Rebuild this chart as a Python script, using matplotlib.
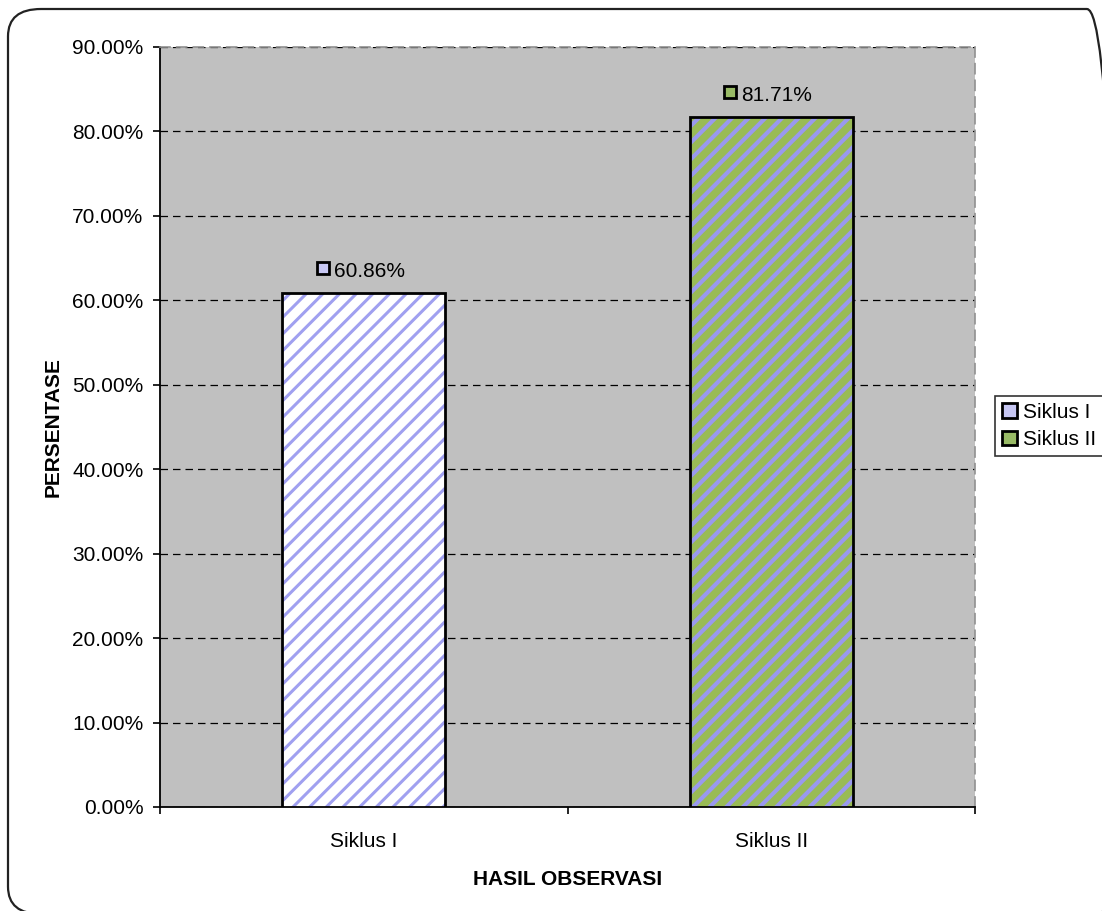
import matplotlib
matplotlib.use("Agg")
import matplotlib.pyplot as plt
import matplotlib.transforms as mtransforms
from matplotlib.patches import FancyBboxPatch
from matplotlib.ticker import PercentFormatter, FixedLocator

# data
kategori = ["Siklus I", "Siklus II"]
persentase = [60.86, 81.71]
label_nilai = ["60.86%", "81.71%"]
warna_dasar = ["#FFFFFF", "#99BB55"]
warna_garis = ["#A0A0F0", "#9999EE"]
warna_kunci = ["#C8C8F4", "#99BB66"]
tebal_garis = [2.2, 3.0]

plt.rcParams['font.family'] = ['Liberation Sans', 'DejaVu Sans']
plt.rcParams['hatch.linewidth'] = 3.0

fig = plt.figure(figsize=(11.02, 9.11), dpi=100)
ax = fig.add_axes([160 / 1102, 1 - 807 / 911, 815 / 1102, 760 / 911])
ax.set_facecolor("#C0C0C0")

# bingkai bulat di sekeliling gambar
bingkai = FancyBboxPatch((8 / 1102, -3 / 911), 1112 / 1102, 905 / 911,
                         boxstyle="round,pad=0,rounding_size=0.03",
                         transform=fig.transFigure, facecolor="none",
                         edgecolor="#222222", linewidth=1.6, clip_on=False)
fig.patches.append(bingkai)

x = list(range(len(kategori)))
bars = []
for i in x:
    b = ax.bar(x[i], persentase[i], width=0.4, color=warna_dasar[i],
               edgecolor=warna_garis[i], linewidth=0, hatch="//", zorder=3,
               label=kategori[i])
    if hasattr(b[0], "set_hatch_linewidth"):
        b[0].set_hatch_linewidth(tebal_garis[i])
    # outline hitam terpisah
    ax.bar(x[i], persentase[i], width=0.4, color="none",
           edgecolor="black", linewidth=2, zorder=4)
    bars.append(b)

# label nilai dengan kunci kecil
for i in x:
    kunci = mtransforms.offset_copy(ax.transData, fig=fig, x=-41, y=25, units='dots')
    ax.plot(x[i], persentase[i], transform=kunci, marker='s', markersize=9,
            markerfacecolor=warna_kunci[i], markeredgecolor="black",
            markeredgewidth=2, zorder=5, clip_on=False)
    teks = mtransforms.offset_copy(ax.transData, fig=fig, x=-30, y=22, units='dots')
    ax.text(x[i], persentase[i], label_nilai[i], transform=teks,
            ha='left', va='center', fontsize=15, zorder=5)

ax.set_xlim(-0.5, 1.5)
ax.set_ylim(0, 90)
ax.yaxis.set_major_locator(FixedLocator([0, 10, 20, 30, 40, 50, 60, 70, 80, 90]))
ax.yaxis.set_major_formatter(PercentFormatter(decimals=2))
ax.set_xticks(x)
ax.set_xticklabels(kategori)
ax.set_xticks([-0.5, 0.5, 1.5], minor=True)
ax.tick_params(axis='x', which='major', length=0, pad=18, labelsize=15)
ax.tick_params(axis='x', which='minor', length=5, width=1.2, direction='out')
ax.tick_params(axis='y', length=5, width=1.2, direction='out', pad=7, labelsize=15)

ax.grid(axis='y', color='black', linestyle=(0, (6, 4)), linewidth=0.9, zorder=1)
ax.set_axisbelow(True)

for s in ['left', 'bottom']:
    ax.spines[s].set_color('black')
    ax.spines[s].set_linewidth(1.3)
for s in ['top', 'right']:
    ax.spines[s].set_color('#909090')
    ax.spines[s].set_linestyle((0, (6, 4)))
    ax.spines[s].set_linewidth(1.2)

ax.set_ylabel("PERSENTASE", fontsize=15, fontweight='bold', labelpad=7)
ax.set_xlabel("HASIL OBSERVASI", fontsize=15, fontweight='bold', labelpad=14)

leg = fig.legend(handles=[b[0] for b in bars], labels=kategori,
                 loc='center left', bbox_to_anchor=(995 / 1102, 1 - 426 / 911),
                 fontsize=15, frameon=True, fancybox=False, edgecolor='black',
                 handlelength=0.7, handleheight=0.7, handletextpad=0.3,
                 borderpad=0.35, labelspacing=0.4, borderaxespad=0)
leg.get_frame().set_linewidth(1.2)
for h, c in zip(leg.legend_handles, warna_kunci):
    h.set_hatch(None)
    h.set_facecolor(c)
    h.set_edgecolor('black')
    h.set_linewidth(2)

fig.savefig("out.png", dpi=100)
